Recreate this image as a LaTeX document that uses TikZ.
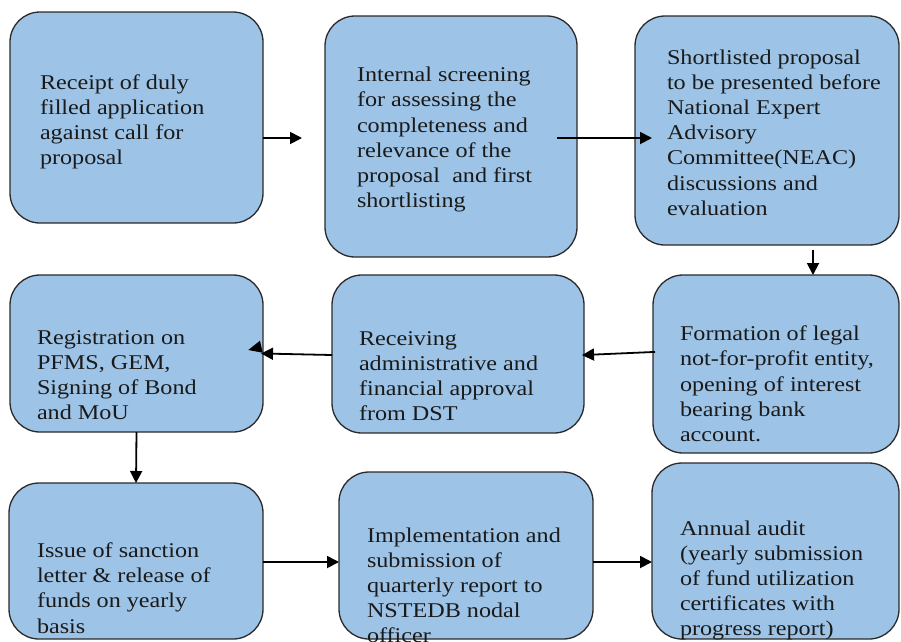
\documentclass[tikz,border=0pt]{standalone}
\usepackage{fontspec}
\setmainfont{Liberation Serif}[FakeStretch=1.15]
\usetikzlibrary{arrows.meta}
\definecolor{boxfill}{HTML}{9DC3E6}
\definecolor{boxline}{HTML}{2A2A2A}
\definecolor{txt}{HTML}{1A1A1A}
\newcommand\firststrut{\rule{0pt}{16pt}}
\begin{document}
\begin{tikzpicture}[x=1pt,y=-1pt,
  procbox/.style={draw=boxline, line width=1.3pt, fill=boxfill, rounded corners=30pt, rectangle, inner sep=0pt, outer sep=0pt},
  boxtext/.style={anchor=north west, inner sep=0pt, outer sep=0pt, align=left, text=txt, font=\fontsize{21}{25.2}\selectfont},
  flow/.style={draw=black, line width=1.8pt, -{Triangle[length=12pt,width=12pt]}}
]
\useasboundingbox (0,0) rectangle (901,641);
\clip (0,0) rectangle (901,641);
\fill[white] (0,0) rectangle (901,641);

% boxes
\node[procbox, minimum width=253pt, minimum height=211pt] (b1) at (136.5,117.5) {};
\node[procbox, minimum width=252pt, minimum height=241pt] (b2) at (451,136.5) {};
\node[procbox, minimum width=264pt, minimum height=229pt] (b3) at (767,130.5) {};
\node[procbox, minimum width=253pt, minimum height=157pt] (b4) at (136.5,353.5) {};
\node[procbox, minimum width=252pt, minimum height=158pt] (b5) at (458,354) {};
\node[procbox, minimum width=246pt, minimum height=178pt] (b6) at (776,364) {};
\node[procbox, minimum width=254pt, minimum height=156pt] (b7) at (136,561) {};
\node[procbox, minimum width=254pt, minimum height=167pt] (b8) at (466,555.5) {};
\node[procbox, minimum width=247pt, minimum height=176pt] (b9) at (775.5,551) {};

% connectors
\draw[flow, shorten >=23pt] ([yshift=-20.5pt]b1.east) -- ([yshift=-1.5pt]b2.west);
\draw[flow, shorten <=-20pt, shorten >=-17pt] ([yshift=-1.5pt]b2.east) -- ([yshift=-7.5pt]b3.west);
\draw[flow, shorten <=5pt] ([xshift=46pt]b3.south) -- ([xshift=37pt]b6.north);
\draw[flow, shorten <=-2pt, shorten >=-2pt] ([yshift=12pt]b6.west) -- ([yshift=-1pt]b5.east);
\draw[flow, shorten >=-2pt] ([yshift=-1pt]b5.west) -- (b4.east);
\fill ([shift={(-14.7,-3.5)}]b4.east) -- ([shift={(-3,-12.8)}]b4.east) -- ([shift={(-0.3,-0.8)}]b4.east) -- cycle;
\draw[flow] (b4.south) -- (b7.north);
\draw[flow] ([yshift=-1pt]b7.east) -- ([yshift=-6.5pt]b8.west);
\draw[flow] ([yshift=-6.5pt]b8.east) -- ([yshift=-11pt]b9.west);

% texts
\node[boxtext] (t1) at (40,73) {\firststrut Receipt of duly\\ filled application\\ against call for\\ proposal};
\node[boxtext] (t2) at (357,65.7) {\firststrut Internal screening\\ for assessing the\\ completeness and\\ relevance of the\\ proposal\ \ and first\\ shortlisting};
\node[boxtext] (t3) at (667,48) {\firststrut Shortlisted proposal\\ to be presented before\\ National Expert\\ Advisory\\ Committee(NEAC)\\ discussions and\\ evaluation};
\node[boxtext] (t4) at (37,328) {\firststrut Registration on\\ PFMS, GEM,\\ Signing of Bond\\ and MoU};
\node[boxtext] (t5) at (359,329) {\firststrut Receiving\\ administrative and\\ financial approval\\ from DST};
\node[boxtext] (t6) at (680,324.7) {\firststrut Formation of legal\\ not-for-profit entity,\\ opening of interest\\ bearing bank\\ account.};
\node[boxtext] (t7) at (37,541.5) {\firststrut Issue of sanction\\ letter \& release of\\ funds on yearly\\ basis};
\node[boxtext] (t8) at (367,526) {\firststrut Implementation and\\ submission of\\ quarterly report to\\ NSTEDB nodal\\ officer};
\node[boxtext] (t9) at (680,519) {\firststrut Annual audit\\ (yearly submission\\ of fund utilization\\ certificates with\\ progress report)};
\end{tikzpicture}
\end{document}
